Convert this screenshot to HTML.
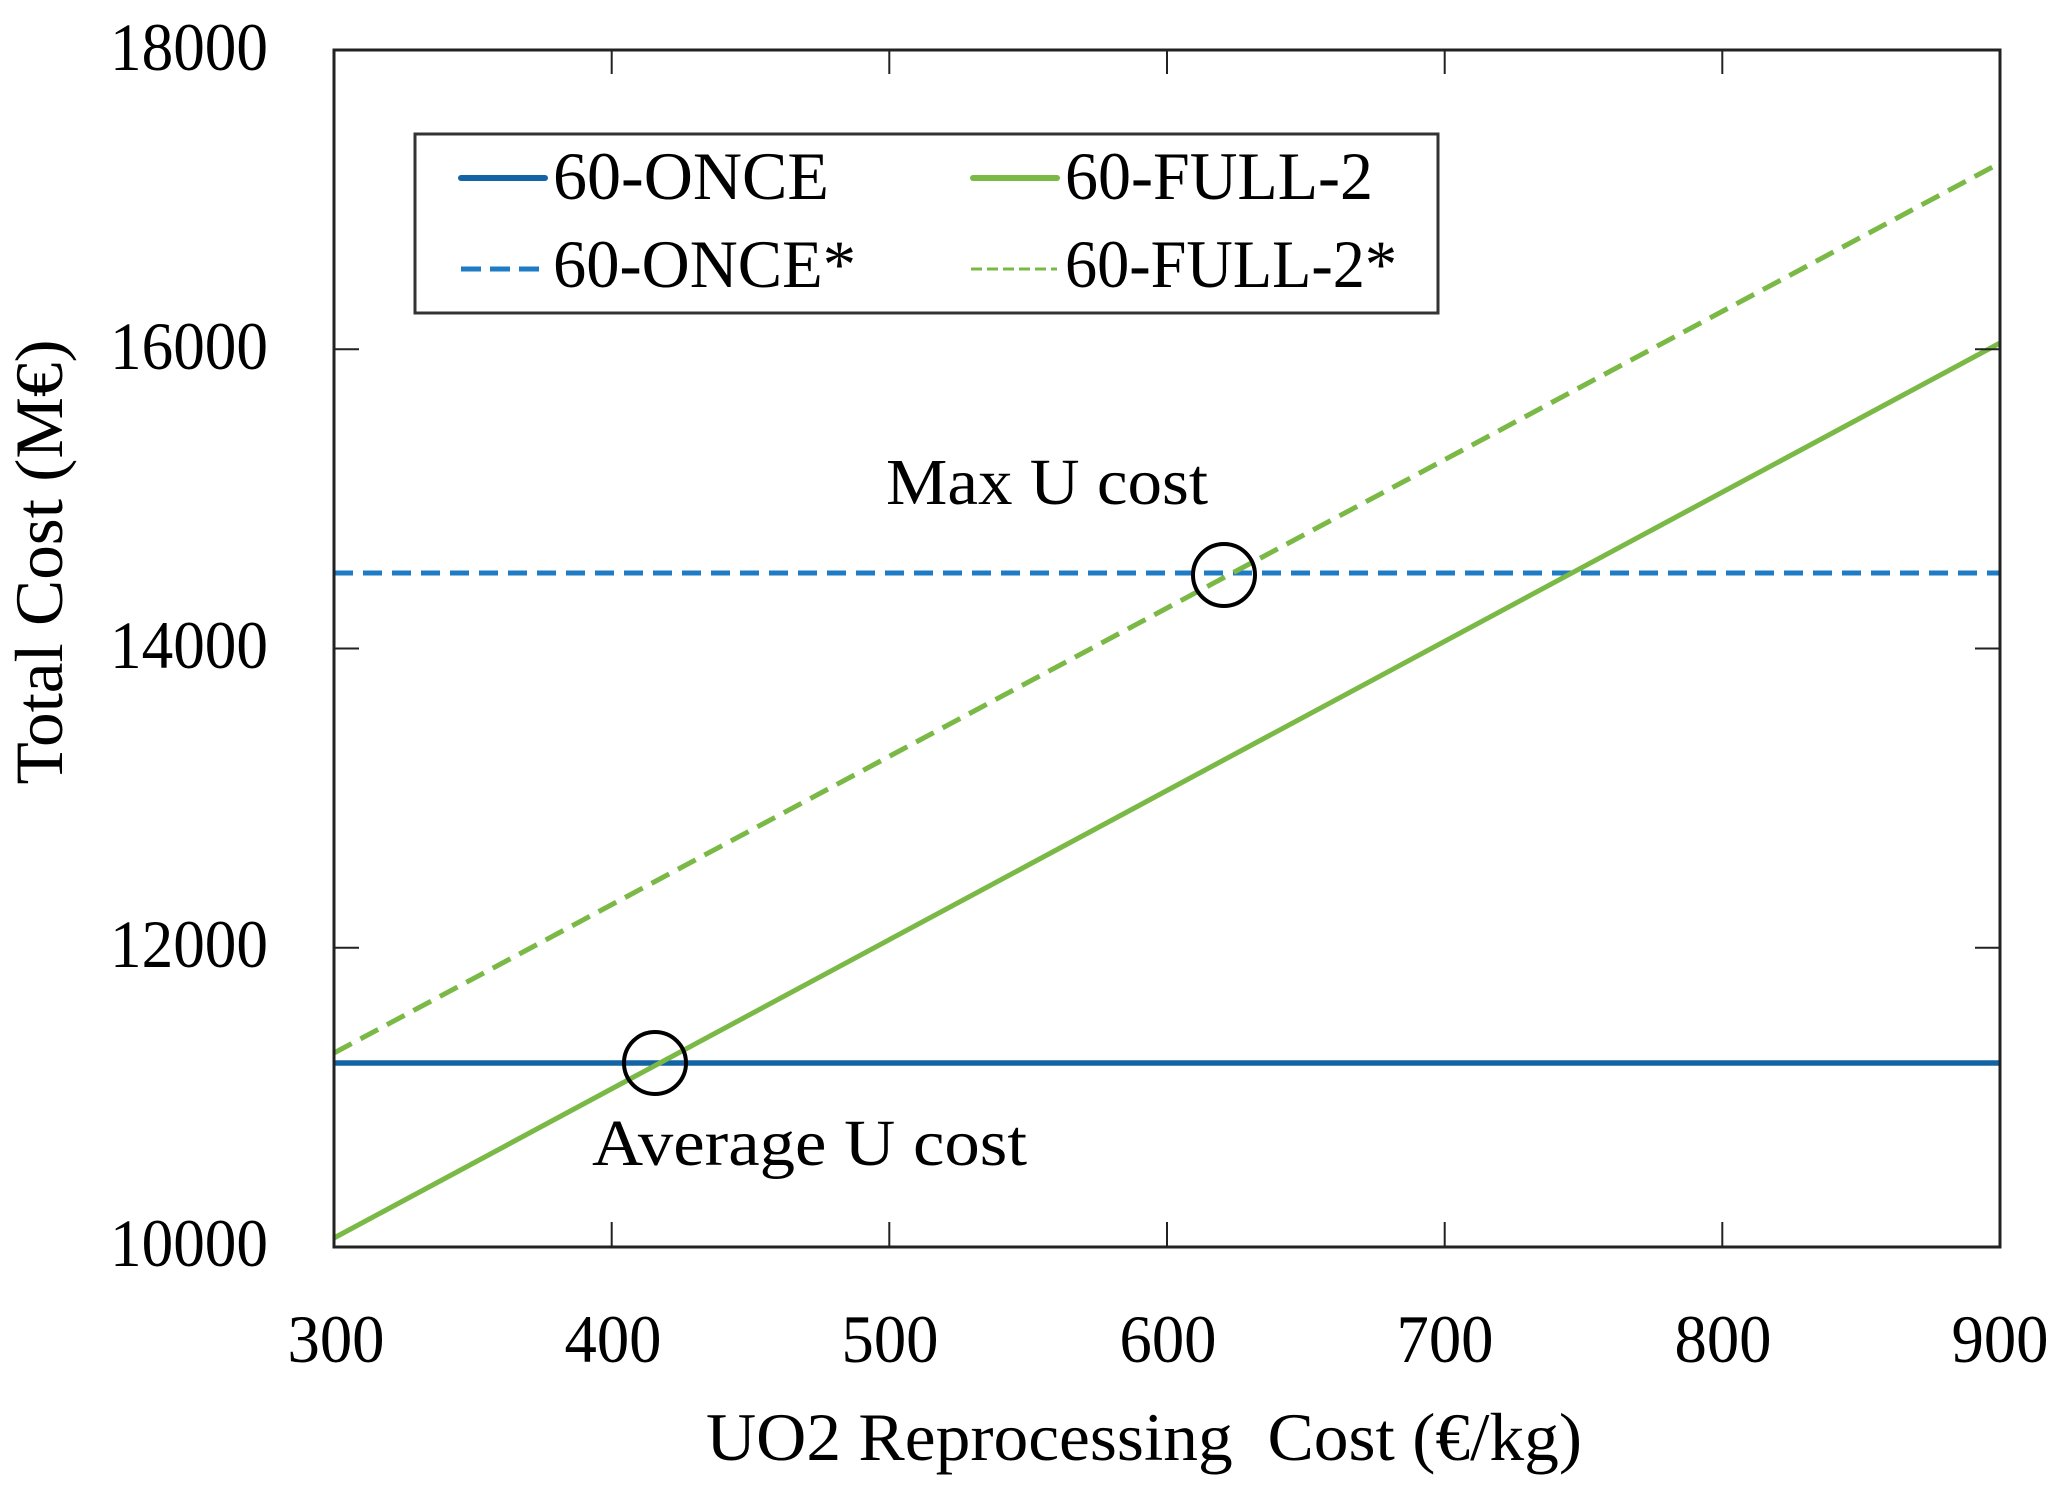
<!DOCTYPE html>
<html>
<head>
<meta charset="utf-8">
<style>
  html, body { margin:0; padding:0; background:#fff; }
  svg { display:block; }
  text { font-family: "Liberation Serif", "DejaVu Serif", serif; fill:#000; }
</style>
</head>
<body>
<svg width="2072" height="1497" viewBox="0 0 2072 1497" xmlns="http://www.w3.org/2000/svg">
  <rect x="0" y="0" width="2072" height="1497" fill="#fff"/>

  <!-- series -->
  <line x1="334" y1="1063" x2="2000" y2="1063" stroke="#1464a5" stroke-width="5.5"/>
  <line x1="334" y1="573" x2="2000" y2="573" stroke="#1f7bc4" stroke-width="5" stroke-dasharray="19 10"/>
  <line x1="334" y1="1238" x2="2000" y2="343" stroke="#7ab946" stroke-width="5"/>
  <line x1="334" y1="1053" x2="2000" y2="163" stroke="#7ab946" stroke-width="5" stroke-dasharray="20 10"/>

  <!-- circles -->
  <circle cx="655" cy="1063" r="31" fill="none" stroke="#000" stroke-width="4"/>
  <circle cx="1224" cy="575" r="31" fill="none" stroke="#000" stroke-width="4"/>

  <!-- axes frame -->
  <rect x="334" y="50" width="1666" height="1197" fill="none" stroke="#222" stroke-width="3"/>

  <g stroke="#222" stroke-width="2">
    <line x1="611.7" y1="1247" x2="611.7" y2="1222"/>
    <line x1="889.3" y1="1247" x2="889.3" y2="1222"/>
    <line x1="1167" y1="1247" x2="1167" y2="1222"/>
    <line x1="1444.7" y1="1247" x2="1444.7" y2="1222"/>
    <line x1="1722.3" y1="1247" x2="1722.3" y2="1222"/>
    <line x1="611.7" y1="50" x2="611.7" y2="74"/>
    <line x1="889.3" y1="50" x2="889.3" y2="74"/>
    <line x1="1167" y1="50" x2="1167" y2="74"/>
    <line x1="1444.7" y1="50" x2="1444.7" y2="74"/>
    <line x1="1722.3" y1="50" x2="1722.3" y2="74"/>
    <line x1="334" y1="947.75" x2="359" y2="947.75"/>
    <line x1="334" y1="648.5" x2="359" y2="648.5"/>
    <line x1="334" y1="349.25" x2="359" y2="349.25"/>
    <line x1="2000" y1="947.75" x2="1975" y2="947.75"/>
    <line x1="2000" y1="648.5" x2="1975" y2="648.5"/>
    <line x1="2000" y1="349.25" x2="1975" y2="349.25"/>
  </g>

  <g font-size="68" text-anchor="end">
    <text x="268" y="1266" textLength="158" lengthAdjust="spacingAndGlyphs">10000</text>
    <text x="268" y="967" textLength="158" lengthAdjust="spacingAndGlyphs">12000</text>
    <text x="268" y="668" textLength="158" lengthAdjust="spacingAndGlyphs">14000</text>
    <text x="268" y="369" textLength="158" lengthAdjust="spacingAndGlyphs">16000</text>
    <text x="268" y="70" textLength="158" lengthAdjust="spacingAndGlyphs">18000</text>
  </g>

  <g font-size="68" text-anchor="middle">
    <text x="336" y="1362" textLength="97" lengthAdjust="spacingAndGlyphs">300</text>
    <text x="613" y="1362" textLength="97" lengthAdjust="spacingAndGlyphs">400</text>
    <text x="890" y="1362" textLength="97" lengthAdjust="spacingAndGlyphs">500</text>
    <text x="1168" y="1362" textLength="97" lengthAdjust="spacingAndGlyphs">600</text>
    <text x="1445" y="1362" textLength="97" lengthAdjust="spacingAndGlyphs">700</text>
    <text x="1723" y="1362" textLength="97" lengthAdjust="spacingAndGlyphs">800</text>
    <text x="2000" y="1362" textLength="97" lengthAdjust="spacingAndGlyphs">900</text>
  </g>

  <text x="706" y="1460" font-size="68" textLength="876" lengthAdjust="spacingAndGlyphs" xml:space="preserve">UO2 Reprocessing  Cost (€/kg)</text>
  <text transform="translate(62,562) rotate(-90)" x="0" y="0" font-size="68" text-anchor="middle" textLength="445" lengthAdjust="spacingAndGlyphs">Total Cost (M€)</text>

  <text x="886" y="504" font-size="66" textLength="322" lengthAdjust="spacingAndGlyphs">Max U cost</text>
  <text x="592" y="1165" font-size="66" textLength="435" lengthAdjust="spacingAndGlyphs">Average U cost</text>

  <rect x="415" y="134" width="1023" height="179" fill="#fff" stroke="#333" stroke-width="3"/>
  <line x1="461" y1="178" x2="545" y2="178" stroke="#1464a5" stroke-width="6" stroke-linecap="round"/>
  <line x1="461" y1="269" x2="545" y2="269" stroke="#1f7bc4" stroke-width="5" stroke-dasharray="20 9"/>
  <line x1="973" y1="178" x2="1057" y2="178" stroke="#7ab946" stroke-width="6" stroke-linecap="round"/>
  <line x1="971" y1="269" x2="1057" y2="269" stroke="#7ab946" stroke-width="3" stroke-dasharray="11 5"/>
  <g font-size="68">
    <text x="553" y="199" textLength="276" lengthAdjust="spacingAndGlyphs">60-ONCE</text>
    <text x="553" y="287" textLength="303" lengthAdjust="spacingAndGlyphs">60-ONCE*</text>
    <text x="1065" y="199" textLength="308" lengthAdjust="spacingAndGlyphs">60-FULL-2</text>
    <text x="1065" y="287" textLength="332" lengthAdjust="spacingAndGlyphs">60-FULL-2*</text>
  </g>
</svg>
</body>
</html>
